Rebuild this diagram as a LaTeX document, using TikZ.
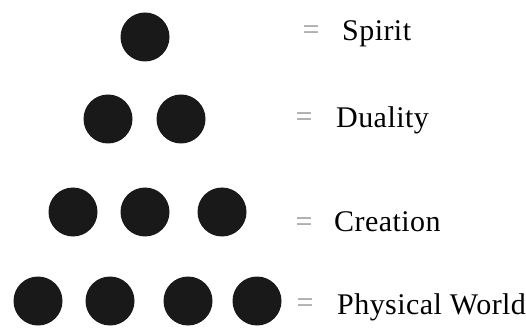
\documentclass[tikz,border=0pt]{standalone}
\usepackage{fontspec}
\setmainfont{Liberation Serif}
\usepackage{tikz}
\usetikzlibrary{positioning}

\begin{document}
\begin{tikzpicture}[
    x=1pt, y=-1pt,
    dot/.style={draw=none, circle, fill=black!90, minimum size=49pt, inner sep=0pt},
    eqsign/.style={anchor=base, inner sep=0pt, text=black!40, font=\fontsize{30}{35}\selectfont},
    word/.style={anchor=base west, inner sep=0pt, font=\fontsize{30}{35}\selectfont\addfontfeature{LetterSpace=1.5}}
]
    \useasboundingbox (0,0) rectangle (526,328);

    % one dot
    \node[dot] (s1) at (145,37) {};
    % two dots
    \node[dot] (d1) at (108,119) {};
    \node[dot] (d2) at (181,119) {};
    % three dots
    \node[dot] (c1) at (73,212) {};
    \node[dot] (c2) at (145,212) {};
    \node[dot] (c3) at (222,212) {};
    % four dots
    \node[dot] (p1) at (38,301) {};
    \node[dot] (p2) at (110,301) {};
    \node[dot] (p3) at (188,301) {};
    \node[dot] (p4) at (257,301) {};

    \node[eqsign] (eqs) at (311,40) {=};
    \node[eqsign] (eqd) at (304,127) {=};
    \node[eqsign] (eqc) at (304,232) {=};
    \node[eqsign] (eqp) at (305,312) {=};

    \node[word] (spirit) at (342,41) {Spirit};
    \node[word] (duality) at (336,128) {Duality};
    \node[word] (creation) at (334,231) {Creation};
    \node[word] (world) at (337,314) {Physical World};
\end{tikzpicture}
\end{document}
